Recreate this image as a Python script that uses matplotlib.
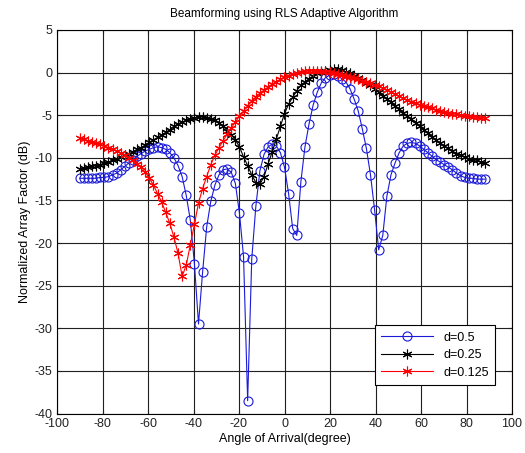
import numpy as np
import matplotlib
matplotlib.use('Agg')
import matplotlib.pyplot as plt

plt.rcParams['font.family'] = ['Liberation Sans', 'DejaVu Sans']
plt.rcParams['axes.unicode_minus'] = False

# angle of arrival grid (degrees), 1.8 deg step
angles = np.linspace(-90, 88.2, 100)

# normalized array factor (dB) for each element spacing
af_d05 = [-12.4, -12.4, -12.4, -12.4, -12.4, -12.3, -12.3, -12.2, -12.0, -11.8,
	-11.4, -11.0, -10.6, -10.2, -9.8, -9.5, -9.2, -9.0, -8.8, -8.7,
	-8.8, -9.0, -9.4, -10.0, -10.9, -12.2, -14.4, -17.3, -22.4, -29.5,
	-23.4, -18.1, -15.1, -13.2, -12.0, -11.4, -11.3, -11.7, -13.0, -16.5,
	-21.6, -38.5, -21.9, -15.7, -11.5, -9.6, -8.7, -8.4, -8.6, -9.4,
	-11.1, -14.2, -18.3, -19.1, -12.8, -8.7, -6.0, -3.8, -2.3, -1.2,
	-0.6, -0.3, -0.2, -0.4, -0.7, -1.1, -1.9, -3.1, -4.5, -6.6,
	-8.9, -12.0, -16.1, -20.8, -19.1, -14.5, -12.0, -10.6, -9.4, -8.6,
	-8.3, -8.2, -8.3, -8.6, -9.0, -9.4, -9.8, -10.2, -10.5, -10.8,
	-11.1, -11.4, -11.8, -12.1, -12.3, -12.4, -12.4, -12.5, -12.5, -12.5]

af_d025 = [-11.3, -11.2, -11.1, -11.0, -10.9, -10.8, -10.6, -10.5, -10.3, -10.1,
	-9.9, -9.7, -9.5, -9.3, -9.0, -8.8, -8.5, -8.2, -7.9, -7.6,
	-7.3, -7.0, -6.7, -6.3, -6.0, -5.8, -5.6, -5.4, -5.3, -5.2,
	-5.2, -5.3, -5.4, -5.6, -5.9, -6.3, -6.8, -7.3, -7.9, -8.7,
	-9.9, -10.9, -12.0, -12.9, -13.1, -12.2, -10.7, -9.3, -7.8, -6.3,
	-4.8, -3.7, -2.9, -2.1, -1.5, -1.1, -0.7, -0.4, -0.1, 0.1,
	0.2, 0.3, 0.4, 0.4, 0.3, 0.1, -0.1, -0.4, -0.6, -0.9,
	-1.2, -1.5, -1.9, -2.3, -2.7, -3.1, -3.5, -3.9, -4.3, -4.7,
	-5.1, -5.5, -5.9, -6.3, -6.7, -7.1, -7.5, -7.9, -8.3, -8.6,
	-8.9, -9.2, -9.5, -9.7, -9.9, -10.1, -10.2, -10.3, -10.5, -10.6]

af_d0125 = [-7.7, -7.8, -8.0, -8.1, -8.3, -8.4, -8.6, -8.8, -9.0, -9.2,
	-9.4, -9.7, -10.0, -10.3, -10.7, -11.1, -11.7, -12.4, -13.2, -14.2,
	-15.2, -16.4, -17.7, -19.3, -21.2, -23.9, -22.6, -20.2, -17.8, -15.3,
	-13.6, -12.2, -10.8, -9.7, -8.8, -8.0, -7.2, -6.5, -5.8, -5.1,
	-4.5, -3.9, -3.3, -2.85, -2.45, -2.05, -1.7, -1.35, -1.05, -0.8,
	-0.55, -0.35, -0.15, 0.0, 0.1, 0.15, 0.2, 0.2, 0.2, 0.15,
	0.1, 0.05, -0.05, -0.15, -0.3, -0.4, -0.5, -0.65, -0.8, -0.95,
	-1.1, -1.25, -1.4, -1.6, -1.8, -2.0, -2.25, -2.5, -2.75, -3.0,
	-3.2, -3.4, -3.6, -3.75, -3.9, -4.05, -4.2, -4.35, -4.5, -4.6,
	-4.7, -4.8, -4.9, -5.0, -5.05, -5.1, -5.2, -5.25, -5.3, -5.35]

labels = ['d=0.5', 'd=0.25', 'd=0.125']

# six-armed asterisk marker
star = (6, 2, 0)

fig = plt.figure(figsize=(5.25, 4.53), dpi=100)
ax = fig.add_axes([57/525, 1 - 413.5/453, 455/525, 383.5/453])

ax.plot(angles, af_d05, '-', marker='o', color=(0.1, 0.1, 0.85), lw=0.8, ms=6.5,
	mfc='none', mew=0.8, label=labels[0])
ax.plot(angles, af_d025, '-', marker=star, color='black', lw=0.8, ms=7, mew=0.8,
	label=labels[1])
ax.plot(angles, af_d0125, '-', marker=star, color='red', lw=0.8, ms=7, mew=0.8,
	label=labels[2])

ax.set_xlim(-100, 100)
ax.set_ylim(-40, 5)
ax.set_xticks(np.arange(-100, 101, 20))
ax.set_yticks(np.arange(-40, 6, 5))
ax.grid(True, color='#202020', lw=0.8, ls='-')
ax.tick_params(direction='in', length=3, labelsize=9, colors='#222222',
	top=True, right=True)
for s in ax.spines.values():
	s.set_linewidth(0.8)

ax.set_title('Beamforming using RLS Adaptive Algorithm', fontsize=8.5, pad=9)
ax.set_xlabel('Angle of Arrival(degree)', fontsize=9, labelpad=2)
ax.set_ylabel('Normalized Array Factor (dB)', fontsize=9, labelpad=2)

leg = ax.legend(loc='lower right', bbox_to_anchor=(0.963, 0.074), fontsize=9,
	handlelength=4.2, fancybox=False, framealpha=1, edgecolor='black',
	borderpad=0.5, labelspacing=0.45, borderaxespad=0)
leg.get_frame().set_linewidth(0.8)

fig.savefig('out.png', dpi=100)
